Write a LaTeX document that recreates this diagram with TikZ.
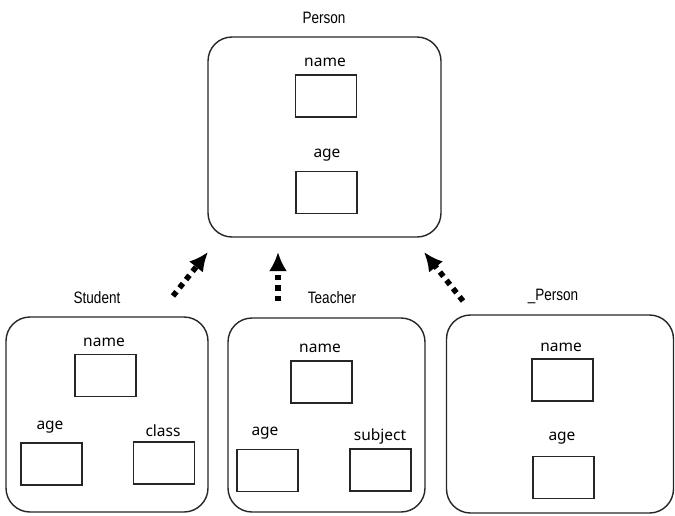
\documentclass[tikz,border=0pt]{standalone}
\usepackage{fontspec}
\usetikzlibrary{arrows.meta}
\newfontfamily\titlefont[FakeStretch=0.82]{Liberation Sans}
\newfontfamily\fieldfont{Noto Sans}
\tikzset{
  outerbox/.style={draw=black!85, line width=1.4pt, rounded corners=24pt, inner sep=0pt},
  fieldbox/.style={draw=black!85, line width=1.4pt, minimum width=61pt, minimum height=42pt, inner sep=0pt},
  titletext/.style={font=\titlefont\fontsize{16.5pt}{19pt}\selectfont, inner sep=0pt},
  fieldtext/.style={font=\fieldfont\fontsize{15.5pt}{18pt}\selectfont, inner sep=0pt},
  inherit/.style={line width=5.5pt, dash pattern=on 5.5pt off 5pt, -{Latex[length=19pt,width=18pt]}}
}
\begin{document}
\begin{tikzpicture}[x=1pt,y=-1pt]
  \useasboundingbox (0,0) rectangle (675,515);

  % base class
  \node[titletext] (ptitle) at (324,18) {Person};
  \node[outerbox, minimum width=233pt, minimum height=200pt] (person) at (324.5,137) {};
  \node[fieldtext] (pnamel) at (325,62) {name};
  \node[fieldbox] (pname) at (326,96) {};
  \node[fieldtext] (pagel) at (327,155) {age};
  \node[fieldbox] (page) at (326.5,192.5) {};

  % Student
  \node[titletext] (stitle) at (97,298) {Student};
  \node[outerbox, minimum width=202pt, minimum height=195pt] (student) at (107,414.5) {};
  \node[fieldtext] (snamel) at (104,342) {name};
  \node[fieldbox] (sname) at (105.5,375.5) {};
  \node[fieldtext] (sagel) at (50,427) {age};
  \node[fieldbox] (sage) at (51.5,464) {};
  \node[fieldtext] (sclassl) at (163,431) {class};
  \node[fieldbox] (sclass) at (164,463) {};

  % Teacher
  \node[titletext] (ttitle) at (332,298) {Teacher};
  \node[outerbox, minimum width=197pt, minimum height=194pt] (teacher) at (326.5,415) {};
  \node[fieldtext] (tnamel) at (320,348) {name};
  \node[fieldbox] (tname) at (321.5,382) {};
  \node[fieldtext] (tagel) at (265,433) {age};
  \node[fieldbox] (tage) at (267.5,470.5) {};
  \node[fieldtext] (tsubjl) at (380,436) {subject};
  \node[fieldbox] (tsubj) at (380.5,470) {};

  % _Person
  \node[titletext] (utitle) at (553,296) {\_Person};
  \node[outerbox, minimum width=227pt, minimum height=198pt] (uperson) at (560,414) {};
  \node[fieldtext] (unamel) at (561,347) {name};
  \node[fieldbox] (uname) at (562.5,380) {};
  \node[fieldtext] (uagel) at (562,438) {age};
  \node[fieldbox] (uage) at (563.5,477.5) {};

  % inheritance arrows
  \coordinate (a1s) at (173,296);
  \coordinate (a1e) at (208,252);
  \coordinate (a2s) at (278,301);
  \coordinate (a2e) at (278,252);
  \coordinate (a3s) at (463,301);
  \coordinate (a3e) at (424,252);
  \draw[inherit] (a1s) -- (a1e);
  \draw[inherit] (a2s) -- (a2e);
  \draw[inherit] (a3s) -- (a3e);
\end{tikzpicture}
\end{document}
